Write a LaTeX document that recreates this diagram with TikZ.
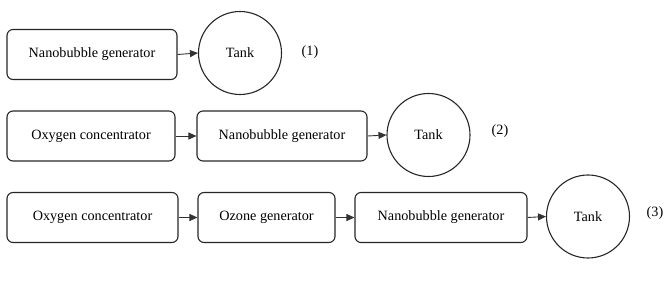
\documentclass[tikz,border=0pt]{standalone}
\usepackage{fontspec}
\setmainfont{Liberation Serif}
\usetikzlibrary{arrows.meta}
\begin{document}
\begin{tikzpicture}[x=1pt,y=-1pt,
  box/.style={draw=black!85,line width=1.1pt,rounded corners=6pt,minimum height=50pt,inner sep=0pt,font=\fontsize{14.2}{17}\selectfont},
  tank/.style={draw=black!85,line width=1.1pt,circle,minimum size=83pt,inner sep=0pt,font=\fontsize{14.2}{17}\selectfont},
  lbl/.style={font=\fontsize{14.2}{17}\selectfont,inner sep=0pt},
  arr/.style={draw=black!80,line width=0.9pt,-{Triangle[length=8pt,width=7pt]}}]
\useasboundingbox (0,0) rectangle (672,283);
% row 1
\node[box,minimum width=170pt] (a1) at (92,54.5) {Nanobubble generator};
\node[tank] (t1) at (240,53) {Tank};
\node[lbl] (l1) at (310,52) {(1)};
\draw[arr] (a1.east) -- (t1.west);
% row 2
\node[box,minimum width=168pt] (b1) at (91,136) {Oxygen concentrator};
\node[box,minimum width=170pt] (b2) at (282,136) {Nanobubble generator};
\node[tank] (t2) at (428.5,135) {Tank};
\node[lbl] (l2) at (500,131) {(2)};
\draw[arr] (b1.east) -- (b2.west);
\draw[arr] (b2.east) -- (t2.west);
% row 3
\node[box,minimum width=171pt] (c1) at (92.5,217.5) {Oxygen concentrator};
\node[box,minimum width=137pt] (c2) at (266.5,217.5) {Ozone generator};
\node[box,minimum width=172pt] (c3) at (441,217.5) {Nanobubble generator};
\node[tank] (t3) at (588,216.5) {Tank};
\node[lbl] (l3) at (655,213) {(3)};
\draw[arr] (c1.east) -- (c2.west);
\draw[arr] (c2.east) -- (c3.west);
\draw[arr] (c3.east) -- (t3.west);
\end{tikzpicture}
\end{document}
